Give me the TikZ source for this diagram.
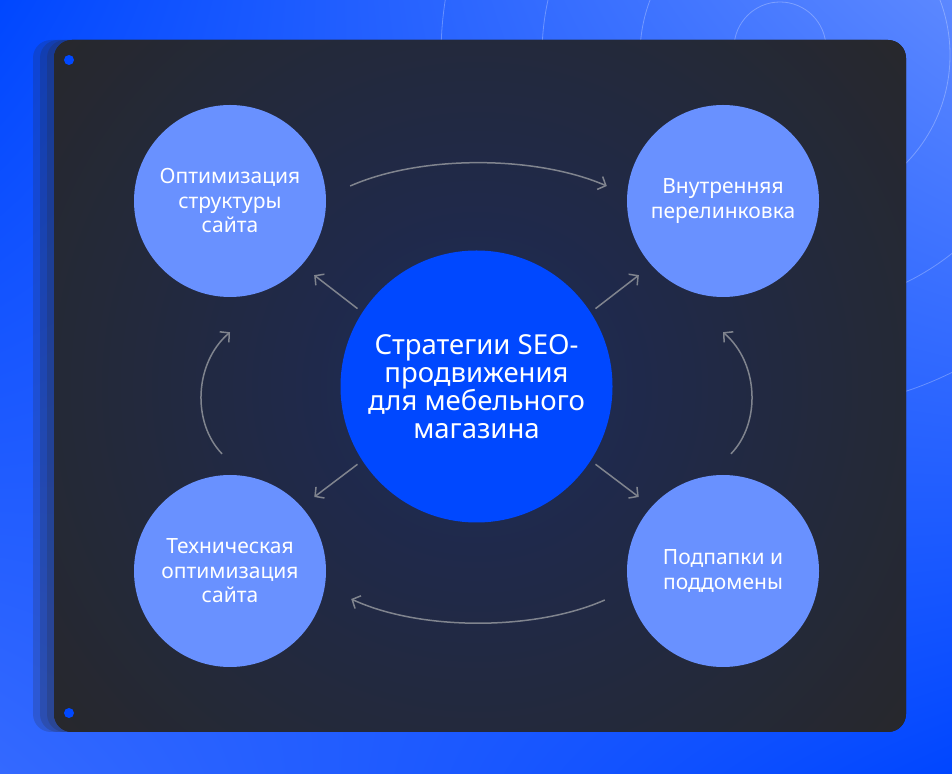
\documentclass[tikz,border=0pt]{standalone}
\usepackage{fontspec}
\setmainfont{Noto Sans}
\usetikzlibrary{arrows.meta,shadings}
\definecolor{bgTL}{HTML}{0047FF}
\definecolor{bgTR}{HTML}{5C88FF}
\definecolor{bgBL}{HTML}{3469FF}
\definecolor{bgBR}{HTML}{0046FF}
\definecolor{panel}{HTML}{282828}
\definecolor{glow}{HTML}{1C2A58}
\definecolor{core}{HTML}{0048FF}
\definecolor{sat}{HTML}{6991FF}
\definecolor{arr}{HTML}{80848E}

\begin{document}
\begin{tikzpicture}[x=1pt,y=1pt,
  bubble/.style={circle,fill=sat,text=white,minimum size=192pt,inner sep=0pt,
    align=center,font=\fontsize{21}{24.5}\selectfont},
  link/.style={draw=arr,line width=1.5pt,-{Straight Barb[length=6.5pt,width=14pt]}}]
\useasboundingbox (0,0) rectangle (952,773);
\shade[upper left=bgTL,upper right=bgTR,lower left=bgBL,lower right=bgBR] (0,0) rectangle (952,773);
\foreach \r in {155,253,354}
    \draw[white,opacity=.28,line width=.8pt] (795,718) circle (\r);
\draw[white,opacity=.28,line width=.8pt] (780,725) circle (46);
\foreach \d in {21,14,7}
    \fill[panel,opacity=.2,rounded corners=18pt] (54-\d,41) rectangle (906-\d,733);
\fill[panel,rounded corners=18pt] (54,41) rectangle (906,733);
\begin{scope}
\clip[rounded corners=18pt] (54,41) rectangle (906,733);
\shade[inner color=glow,outer color=panel] (476.5,386.5) circle (600);
\end{scope}
\fill[core] (69,713) circle (5);
\fill[core] (69,60) circle (5);

\node[circle,fill=core,text=white,minimum size=272pt,inner sep=0pt,align=center,
    font=\fontsize{27.5}{28}\selectfont] (hub) at (476.5,386.5)
    {Стратегии SEO-\\продвижения\\для мебельного\\магазина};
\node[bubble] (struct) at (230,572) {Оптимизация\\структуры\\сайта};
\node[bubble] (links) at (723,572) {Внутренняя\\перелинковка};
\node[bubble] (tech) at (230,202) {Техническая\\оптимизация\\сайта};
\node[bubble] (subdom) at (723,202) {Подпапки и\\поддомены};

\draw[link,shorten <=6pt,shorten >=16pt] (hub.147) -- (struct.-42);
\draw[link,shorten <=6pt,shorten >=16pt] (hub.33) -- (links.222);
\draw[link,shorten <=6pt,shorten >=16pt] (hub.213) -- (tech.42);
\draw[link,shorten <=6pt,shorten >=16pt] (hub.327) -- (subdom.138);

\draw[link] ([shift={(24,15)}]struct.east) .. controls +(70,31) and +(-72,31) .. ([shift={(-20,15)}]links.west);
\draw[link] ([shift={(-22,-29)}]subdom.west) .. controls +(-70,-31) and +(69,-32) .. ([shift={(25,-28)}]tech.east);
\draw[link] ([shift={(-8,21)}]tech.north) .. controls +(-30,31) and +(-36,-31) .. ([shift={(0,-35)}]struct.south);
\draw[link] ([shift={(8,21)}]subdom.north) .. controls +(30,31) and +(36,-31) .. ([shift={(0,-35)}]links.south);
\end{tikzpicture}
\end{document}
